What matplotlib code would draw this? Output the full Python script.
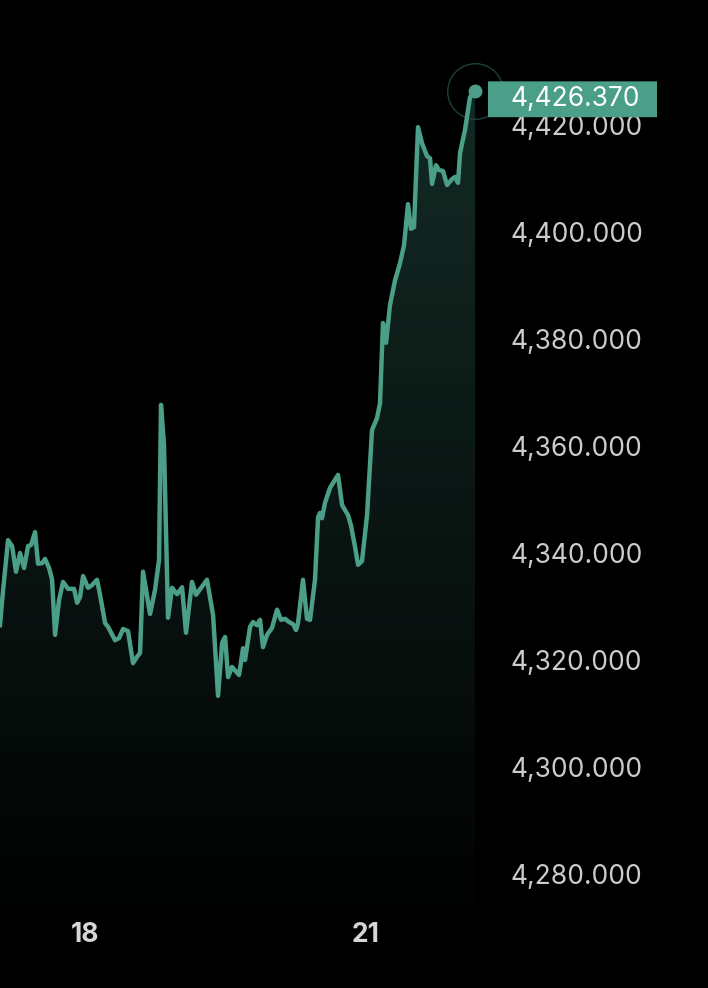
import numpy as np
import matplotlib
matplotlib.use("Agg")
import matplotlib.pyplot as plt
from matplotlib.patches import FancyBboxPatch, PathPatch

# time in days of the month, price values
days = [17.092, 17.125, 17.178, 17.221, 17.263, 17.306, 17.349, 17.392, 17.424, 17.466,
        17.498, 17.541, 17.573, 17.616, 17.648, 17.680, 17.722, 17.765, 17.819, 17.883,
        17.915, 17.947, 17.979, 18.032, 18.075, 18.128, 18.160, 18.214, 18.246, 18.320,
        18.363, 18.406, 18.459, 18.512, 18.555, 18.587, 18.619, 18.694, 18.747, 18.790,
        18.811, 18.843, 18.886, 18.929, 18.982, 19.036, 19.078, 19.142, 19.185, 19.302,
        19.367, 19.420, 19.463, 19.495, 19.527, 19.569, 19.644, 19.687, 19.708, 19.762,
        19.794, 19.836, 19.868, 19.900, 19.943, 19.996, 20.050, 20.093, 20.135, 20.178,
        20.221, 20.253, 20.274, 20.327, 20.370, 20.402, 20.455, 20.488, 20.509, 20.530,
        20.562, 20.616, 20.701, 20.744, 20.776, 20.808, 20.840, 20.883, 20.915, 20.957,
        21.011, 21.064, 21.117, 21.149, 21.171, 21.181, 21.214, 21.256, 21.310, 21.363,
        21.406, 21.448, 21.480, 21.512, 21.555, 21.598, 21.651, 21.683, 21.705, 21.747,
        21.779, 21.822, 21.865, 21.918, 21.950, 21.982, 22.004, 22.057, 22.110, 22.164]
prices = [4326.5, 4333.1, 4342.4, 4341.3, 4336.5, 4340.0, 4337.2, 4341.3, 4341.5, 4343.9,
          4338.0, 4338.1, 4338.9, 4337.2, 4335.0, 4324.7, 4331.2, 4334.6, 4333.3, 4333.3,
          4330.7, 4331.8, 4335.7, 4333.5, 4334.0, 4335.0, 4332.2, 4326.9, 4326.2, 4323.7,
          4324.1, 4325.8, 4325.4, 4319.4, 4320.6, 4321.3, 4336.5, 4328.6, 4333.1, 4338.7,
          4367.7, 4360.2, 4327.9, 4333.5, 4332.3, 4333.6, 4325.1, 4334.6, 4332.2, 4335.0,
          4328.4, 4313.3, 4323.2, 4324.3, 4316.8, 4318.7, 4317.2, 4322.2, 4320.0, 4326.2,
          4327.1, 4326.5, 4327.5, 4322.4, 4324.7, 4326.0, 4329.4, 4327.5, 4327.7, 4327.1,
          4326.7, 4325.6, 4326.9, 4335.0, 4327.7, 4327.5, 4335.0, 4346.7, 4347.5, 4346.5,
          4349.4, 4352.2, 4354.6, 4349.0, 4348.0, 4347.1, 4345.1, 4341.1, 4337.8, 4338.5,
          4347.1, 4363.0, 4365.2, 4368.0, 4378.3, 4383.0, 4379.3, 4386.4, 4391.0, 4394.2,
          4397.6, 4405.2, 4400.6, 4400.9, 4419.6, 4416.6, 4414.2, 4413.8, 4409.0, 4412.5,
          4411.6, 4411.4, 4408.8, 4409.9, 4410.3, 4409.2, 4414.8, 4419.1, 4425.2, 4426.37]

y_ticks = [4280, 4300, 4320, 4340, 4360, 4380, 4400, 4420]
x_ticks = [18, 21]
x_tick_labels = ["18", "21"]

line_color = "#4b9e88"
bg = "#000000"

plt.rcParams["font.family"] = ["Inter", "DejaVu Sans"]

fig = plt.figure(figsize=(7.08, 9.88), dpi=100, facecolor=bg)
ax = fig.add_axes([0, 83 / 988, 495 / 708, 865 / 988])
ax.set_facecolor(bg)
ax.set_xlim(17.092, 22.377)
ax.set_ylim(4274.2, 4435.9)

x = np.array(days)
y = np.array(prices)
y_floor = ax.get_ylim()[0]

# gradient fill under the line
poly = ax.fill_between(x, y, y_floor, color="none", lw=0)
grad = np.zeros((256, 1, 4))
grad[..., 0] = 0.294
grad[..., 1] = 0.62
grad[..., 2] = 0.533
grad[:, 0, 3] = np.linspace(0.27, 0.02, 256)
img = ax.imshow(grad, aspect="auto", origin="upper",
                extent=[x[0], x[-1], y_floor, y.max()], zorder=1)
clip = PathPatch(poly.get_paths()[0], transform=ax.transData, fc="none", ec="none")
ax.add_patch(clip)
img.set_clip_path(clip)

ax.plot(x, y, color=line_color, lw=3.2, solid_joinstyle="round", zorder=3)

# end point marker with faint ring
ax.plot(x[-1], y[-1], "o", ms=40, mfc="none", mec="#1b4239", mew=1.0,
        zorder=2, clip_on=False)
ax.plot(x[-1], y[-1], "o", ms=9, color=line_color, zorder=4, clip_on=False)

# axis styling
for s in ax.spines.values():
    s.set_visible(False)
ax.yaxis.tick_right()
ax.set_yticks(y_ticks)
ax.set_yticklabels([f"{v:,.3f}" for v in y_ticks])
ax.tick_params(axis="y", length=0, pad=11.5, labelsize=19, labelcolor="#cccccc")
ax.set_xticks(x_ticks)
ax.set_xticklabels(x_tick_labels, fontweight="bold")
ax.tick_params(axis="x", length=0, pad=12, labelsize=19, labelcolor="#d6d6d6")
ax.grid(False)

# last price label
last = y[-1]
trans = ax.get_yaxis_transform()
box = FancyBboxPatch((488 / 495, last - 4.9), 169 / 495, 6.7,
                     boxstyle="round,pad=0,rounding_size=0.004",
                     transform=trans, fc=line_color, ec="none",
                     zorder=6, clip_on=False)
ax.add_patch(box)
ax.text(511 / 495, last - 1.5, f"{last:,.3f}", transform=trans, ha="left",
        va="center", fontsize=19, color="white", zorder=7, clip_on=False)

fig.savefig("out.png", dpi=100, facecolor=bg)
